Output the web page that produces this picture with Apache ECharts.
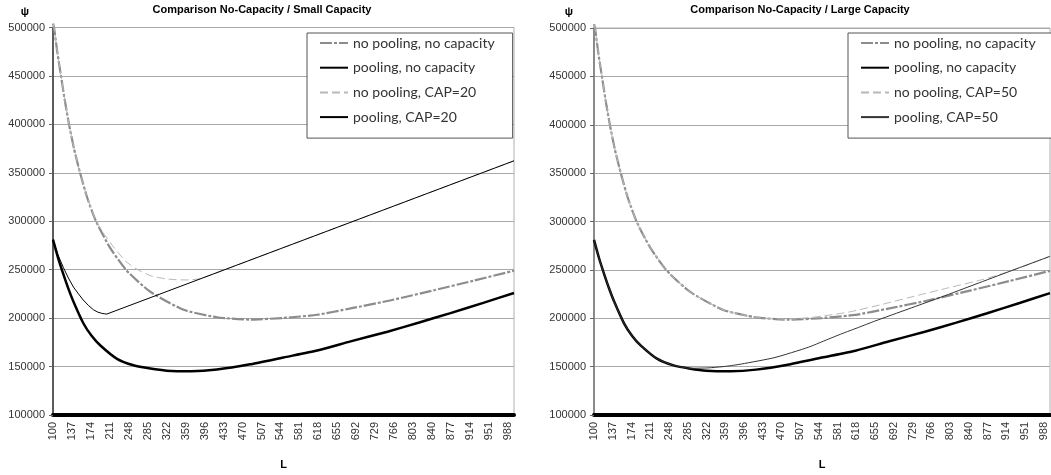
<!DOCTYPE html>
<html><head><meta charset="utf-8">
<script src="https://cdn.jsdelivr.net/npm/echarts@6/dist/echarts.min.js"></script>
<style>html,body{margin:0;padding:0;background:#fff}#c{width:1051px;height:475px}</style>
</head><body><div id="c"></div>
<script>
// ---- tick labels ----
const xTickLabels = [100,137,174,211,248,285,322,359,396,433,470,507,544,581,618,655,692,729,766,803,840,877,914,951,988];
const xMaxL = 1000;
const yMin = 100000, yMax = 500000, yStep = 50000;

// ---- titles / names ----
const titles = ['Comparison No-Capacity / Small Capacity', 'Comparison No-Capacity / Large Capacity'];
const namesLeft  = ['no pooling, no capacity', 'pooling, no capacity', 'no pooling, CAP=20', 'pooling, CAP=20'];
const namesRight = ['no pooling, no capacity', 'pooling, no capacity', 'no pooling, CAP=50', 'pooling, CAP=50'];

// ---- series: L values and objective values ----
const L_noPoolNoCap = [100,102,108,115.6,123,131.3,141,152.8,167,184,211,244,290,355,420,485,550,616,681,760,844,920,1000];
const V_noPoolNoCap = [504000,500000,476000,450000,425000,400000,375000,350000,324000,300000,273000,249000,227200,208600,200900,198500,200200,203500,210000,218500,228800,238500,249000];

const L_poolNoCap = [100,110,120,130,140,159,175,192,225,257,290,322,370,420,485,550,616,681,753,815,876,940,1000];
const V_poolNoCap = [281000,262000,245700,230500,217000,195000,182000,172000,158000,151300,147900,145800,145200,146900,152300,159400,166500,176000,186000,195500,205200,215800,226000];

const L_noPoolCap20 = [100,102,108,115.6,123,131.3,141,152.8,167,184,200,215,240,257,275,290,306,322,336,350,360,370,380,390,583,1000];
const V_noPoolCap20 = [504000,500000,476000,450000,425000,400000,375000,350000,324000,300000,286500,275500,259500,252500,247300,243800,241800,240500,239800,239500,239400,239600,240100,241000,279400,362400];

const L_poolCap20 = [100,110,120,130,140,150,159,169,179,187,195,200,205,583,1000];
const V_poolCap20 = [281000,265000,252500,241500,232000,224800,218700,213200,208600,206300,205000,204500,204200,279400,362400];

const L_noPoolCap50 = [100,102,108,115.6,123,131.3,141,152.8,167,184,211,244,290,355,420,485,523,550,605,670,737,800,868,921,1000];
const V_noPoolCap50 = [504000,500000,476000,450000,425000,400000,375000,350000,324000,300000,273000,249000,227200,208600,200900,199000,200600,202200,206600,214500,223400,231500,240200,248600,264000];

const L_poolCap50 = [100,110,120,130,140,159,175,192,225,257,290,325,360,391,457,523,556,589,622,654,720,786,852,921,1000];
const V_poolCap50 = [281000,262000,245700,230500,217000,195000,182000,172000,158000,151300,148300,148700,150300,152700,159400,170000,177000,184000,190500,197000,209500,222000,235000,248600,264000];

function zip(a, b) { return a.map((x, i) => [x, b[i]]); }

const styles = {
  noPoolNoCap: { color: '#8c8c8c', width: 2.2, type: [12, 2, 3, 2] },
  poolNoCap:   { color: '#000000', width: 2.5, type: 'solid' },
  noPoolCap:   { color: '#b8b8b8', width: 1, type: [8, 4] },
  poolCap20:   { color: '#000000', width: 1, type: 'solid' },
  poolCap50:   { color: '#333333', width: 1, type: 'solid' }
};

function mk(name, data, st, idx, smooth) {
  return {
    type: 'line', name: name, data: data, xAxisIndex: idx, yAxisIndex: idx,
    showSymbol: false, symbol: 'none', smooth: smooth, clip: false,
    lineStyle: { color: st.color, width: st.width, type: st.type },
    itemStyle: { color: st.color }, emphasis: { disabled: true }
  };
}

const FONT = '"Liberation Sans", Arial, sans-serif';

function xAxisCfg(idx) {
  return {
    type: 'value', gridIndex: idx, min: xTickLabels[0], max: xMaxL,
    interval: xTickLabels[1] - xTickLabels[0],
    axisLine: { show: true, lineStyle: { color: '#000', width: 4 } },
    axisTick: { show: false }, splitLine: { show: false },
    axisLabel: {
      rotate: 90, fontSize: 11, color: '#333', margin: 7, fontFamily: FONT,
      showMaxLabel: false,
      formatter: v => (xTickLabels.indexOf(Math.round(v)) >= 0 ? String(Math.round(v)) : '')
    },
    name: 'L', nameLocation: 'middle', nameGap: 44,
    nameTextStyle: { fontSize: 11, fontWeight: 'bold', color: '#000', fontFamily: FONT }
  };
}
function yAxisCfg(idx, axisColor, axisWidth) {
  return {
    type: 'value', gridIndex: idx, min: yMin, max: yMax, interval: yStep,
    axisLine: { show: true, lineStyle: { color: axisColor, width: axisWidth } },
    axisTick: { show: true, length: 4, lineStyle: { color: '#666' } },
    splitLine: { show: true, lineStyle: { color: '#a8a8a8', width: 1 } },
    axisLabel: { fontSize: 11, color: '#333', margin: 8, fontFamily: FONT, formatter: v => String(v) }
  };
}
function legendCfg(left, names) {
  return {
    left: left, top: 33, orient: 'vertical', data: names, selectedMode: false,
    padding: [3, 18, 14, 12], itemGap: 10.7, itemWidth: 28, itemHeight: 14,
    borderColor: '#555', borderWidth: 1, backgroundColor: '#fff', borderRadius: 0,
    itemStyle: { opacity: 0 },
    textStyle: { fontSize: 14, color: '#333', fontFamily: 'Lato, "Open Sans", sans-serif' }
  };
}

const chart = echarts.init(document.getElementById('c'));
chart.setOption({
  animation: false,
  backgroundColor: '#fff',
  grid: [
    { left: 53, top: 27.5, width: 461, height: 397, show: true, borderColor: '#b0b0b0', borderWidth: 1, backgroundColor: 'transparent' },
    { left: 594, top: 28, width: 456, height: 398, show: true, borderColor: '#b0b0b0', borderWidth: 1, backgroundColor: 'transparent' }
  ],
  xAxis: [xAxisCfg(0), xAxisCfg(1)],
  yAxis: [yAxisCfg(0, '#333', 1.5), yAxisCfg(1, '#8a8a8a', 2)],
  legend: [legendCfg(307, namesLeft), legendCfg(848, namesRight)],
  graphic: [
    { type: 'text', x: 262, y: 4, style: { text: titles[0], textAlign: 'center', font: 'bold 11px ' + FONT, fill: '#000' } },
    { type: 'text', x: 800, y: 4, style: { text: titles[1], textAlign: 'center', font: 'bold 11px ' + FONT, fill: '#000' } },
    { type: 'text', x: 25, y: 6, style: { text: 'ψ', textAlign: 'center', font: 'bold 11px ' + FONT, fill: '#000' } },
    { type: 'text', x: 569, y: 6, style: { text: 'ψ', textAlign: 'center', font: 'bold 11px ' + FONT, fill: '#000' } }
  ],
  series: [
    mk(namesLeft[0], zip(L_noPoolNoCap, V_noPoolNoCap), styles.noPoolNoCap, 0, 0.2),
    mk(namesLeft[1], zip(L_poolNoCap, V_poolNoCap), styles.poolNoCap, 0, 0.2),
    mk(namesLeft[2], zip(L_noPoolCap20, V_noPoolCap20), styles.noPoolCap, 0, false),
    mk(namesLeft[3], zip(L_poolCap20, V_poolCap20), styles.poolCap20, 0, false),
    mk(namesRight[0], zip(L_noPoolNoCap, V_noPoolNoCap), styles.noPoolNoCap, 1, 0.2),
    mk(namesRight[1], zip(L_poolNoCap, V_poolNoCap), styles.poolNoCap, 1, 0.2),
    mk(namesRight[2], zip(L_noPoolCap50, V_noPoolCap50), styles.noPoolCap, 1, 0.2),
    mk(namesRight[3], zip(L_poolCap50, V_poolCap50), styles.poolCap50, 1, 0.2)
  ]
});
</script>
</body></html>
